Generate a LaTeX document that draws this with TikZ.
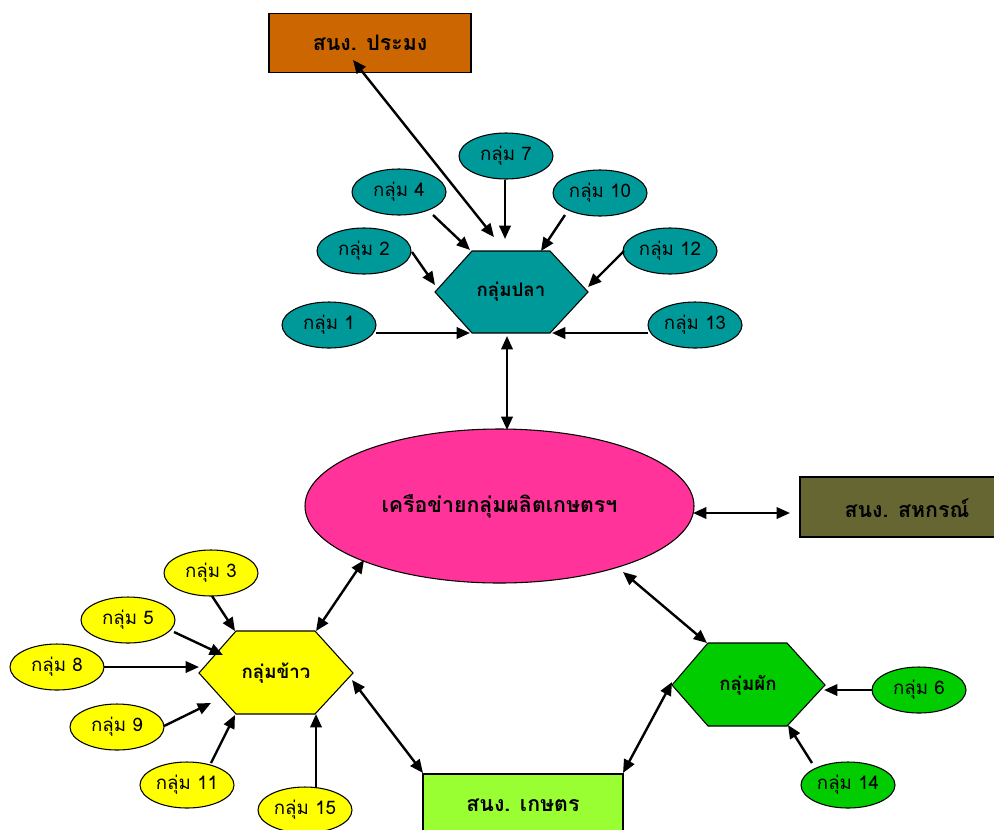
\documentclass[tikz,border=0pt]{standalone}
\usepackage{fontspec}
\newfontfamily\thai[Script=Thai]{Loma}
\usetikzlibrary{shapes.geometric,arrows.meta}
\definecolor{cPramong}{HTML}{CC6600}
\definecolor{cTeal}{HTML}{009999}
\definecolor{cMain}{HTML}{FF3399}
\definecolor{cSahakorn}{HTML}{666633}
\definecolor{cYellow}{HTML}{FFFF00}
\definecolor{cGreen}{HTML}{00CC00}
\definecolor{cKaset}{HTML}{99FF33}
\tikzset{
  grp/.style={ellipse, draw, line width=0.8pt, minimum width=70.5pt, minimum height=34.5pt, inner sep=0pt, font=\thai\fontsize{14}{16}\selectfont},
  bigtxt/.style={font=\thai\bfseries\fontsize{16}{19}\selectfont},
  hextxt/.style={font=\thai\bfseries\fontsize{14}{17}\selectfont},
  shp/.style={draw, line width=0.8pt},
  arr/.style={-{Triangle[length=10pt,width=8.5pt]}, line width=1.8pt},
  barr/.style={{Triangle[length=10pt,width=8.5pt]}-{Triangle[length=10pt,width=8.5pt]}, line width=1.8pt}
}
\begin{document}
\begin{tikzpicture}[x=0.75pt,y=-0.75pt]
\useasboundingbox (0,0) rectangle (994,829);
\fill[white] (0,0) rectangle (994,829);
\begin{scope}
\clip (0,0) rectangle (994,829);
% boxes
\node[shp, fill=cPramong, rectangle, minimum width=151.5pt, minimum height=44.25pt, bigtxt] (pramong) at (370,43) {สนง. ประมง};
\draw[shp, fill=cSahakorn] (800,477) rectangle (1014,537);
\node[bigtxt] (sahakorn) at (907,508) {สนง. สหกรณ์};
\draw[shp, fill=cKaset] (423,774) rectangle (623,845);
\node[bigtxt] (kaset) at (523,805) {สนง. เกษตร};
% main ellipse
\node[shp, ellipse, fill=cMain, minimum width=291.75pt, minimum height=115.5pt, inner sep=0pt, bigtxt] (main) at (499.5,506) {เครือข่ายกลุ่มผลิตเกษตรฯ};
% hexagons
\draw[shp, fill=cTeal] (472,251) -- (550,251) -- (588,292) -- (550,333) -- (472,333) -- (435,292) -- cycle;
\node[hextxt] (fish) at (511,292) {กลุ่มปลา};
\draw[shp, fill=cYellow] (236,631) -- (315,631) -- (353,673) -- (315,714) -- (236,714) -- (199,673) -- cycle;
\node[hextxt] (rice) at (276,673) {กลุ่มข้าว};
\draw[shp, fill=cGreen] (708,643) -- (787,643) -- (825,685) -- (787,726) -- (708,726) -- (672,685) -- cycle;
\node[hextxt] (veg) at (748,685) {กลุ่มผัก};
% small groups
\node[grp, fill=cTeal] (g1) at (329,325) {กลุ่ม 1};
\node[grp, fill=cTeal] (g2) at (364,251) {กลุ่ม 2};
\node[grp, fill=cTeal] (g4) at (399,192) {กลุ่ม 4};
\node[grp, fill=cTeal] (g7) at (506,156) {กลุ่ม 7};
\node[grp, fill=cTeal] (g10) at (600,193) {กลุ่ม 10};
\node[grp, fill=cTeal] (g12) at (670,251) {กลุ่ม 12};
\node[grp, fill=cTeal] (g13) at (695,325) {กลุ่ม 13};
\node[grp, fill=cYellow] (g3) at (211,573) {กลุ่ม 3};
\node[grp, fill=cYellow] (g5) at (128,620) {กลุ่ม 5};
\node[grp, fill=cYellow] (g8) at (57,667) {กลุ่ม 8};
\node[grp, fill=cYellow] (g9) at (117,727) {กลุ่ม 9};
\node[grp, fill=cYellow] (g11) at (187,785) {กลุ่ม 11};
\node[grp, fill=cYellow] (g15) at (305,810) {กลุ่ม 15};
\node[grp, fill=cGreen] (g6) at (919,690) {กลุ่ม 6};
\node[grp, fill=cGreen] (g14) at (848,785) {กลุ่ม 14};
% connector end points
\coordinate (pramongE) at (353,60);  \coordinate (fishPr) at (494,237);
\coordinate (g1E) at (376,333);  \coordinate (fishG1) at (470,333);
\coordinate (g2E) at (412,252);  \coordinate (fishG2) at (435,285);
\coordinate (g4E) at (433,215);  \coordinate (fishG4) at (470,250);
\coordinate (g7E) at (505,180);  \coordinate (fishG7) at (505,239);
\coordinate (g10E) at (565,215); \coordinate (fishG10) at (541,251);
\coordinate (g12E) at (624,251); \coordinate (fishG12) at (588,287);
\coordinate (g13E) at (648,333); \coordinate (fishG13) at (552,333);
\coordinate (fishS) at (507,336); \coordinate (mainN) at (507,430);
\coordinate (mainE) at (693,513); \coordinate (sahakornW) at (790,513);
\coordinate (mainSW) at (364,560); \coordinate (riceNE) at (316,631);
\coordinate (mainSE) at (623,572); \coordinate (vegNW) at (707,643);
\coordinate (riceE) at (352,680); \coordinate (kasetNW) at (423,773);
\coordinate (vegW) at (672,682); \coordinate (kasetNE) at (623,773);
\coordinate (g3E) at (212,596); \coordinate (riceG3) at (235,631);
\coordinate (g5E) at (174,632); \coordinate (riceG5) at (223,655);
\coordinate (g8E) at (104,667); \coordinate (riceG8) at (199,667);
\coordinate (g9E) at (164,726); \coordinate (riceG9) at (211,703);
\coordinate (g11E) at (211,763); \coordinate (riceG11) at (235,715);
\coordinate (g15E) at (316,787); \coordinate (riceG15) at (316,714);
\coordinate (g6E) at (872,690); \coordinate (vegG6) at (824,690);
\coordinate (g14E) at (812,763); \coordinate (vegG14) at (788,725);
% connectors
\draw[barr] (pramongE) -- (fishPr);
\draw[arr] (g1E) -- (fishG1);
\draw[arr] (g2E) -- (fishG2);
\draw[arr] (g4E) -- (fishG4);
\draw[arr] (g7E) -- (fishG7);
\draw[arr] (g10E) -- (fishG10);
\draw[arr] (g12E) -- (fishG12);
\draw[arr] (g13E) -- (fishG13);
\draw[barr] (fishS) -- (mainN);
\draw[barr] (mainE) -- (sahakornW);
\draw[barr] (mainSW) -- (riceNE);
\draw[barr] (mainSE) -- (vegNW);
\draw[barr] (riceE) -- (kasetNW);
\draw[barr] (vegW) -- (kasetNE);
\draw[arr] (g3E) -- (riceG3);
\draw[arr] (g5E) -- (riceG5);
\draw[arr] (g8E) -- (riceG8);
\draw[arr] (g9E) -- (riceG9);
\draw[arr] (g11E) -- (riceG11);
\draw[arr] (g15E) -- (riceG15);
\draw[arr] (g6E) -- (vegG6);
\draw[arr] (g14E) -- (vegG14);
\end{scope}
\end{tikzpicture}
\end{document}
